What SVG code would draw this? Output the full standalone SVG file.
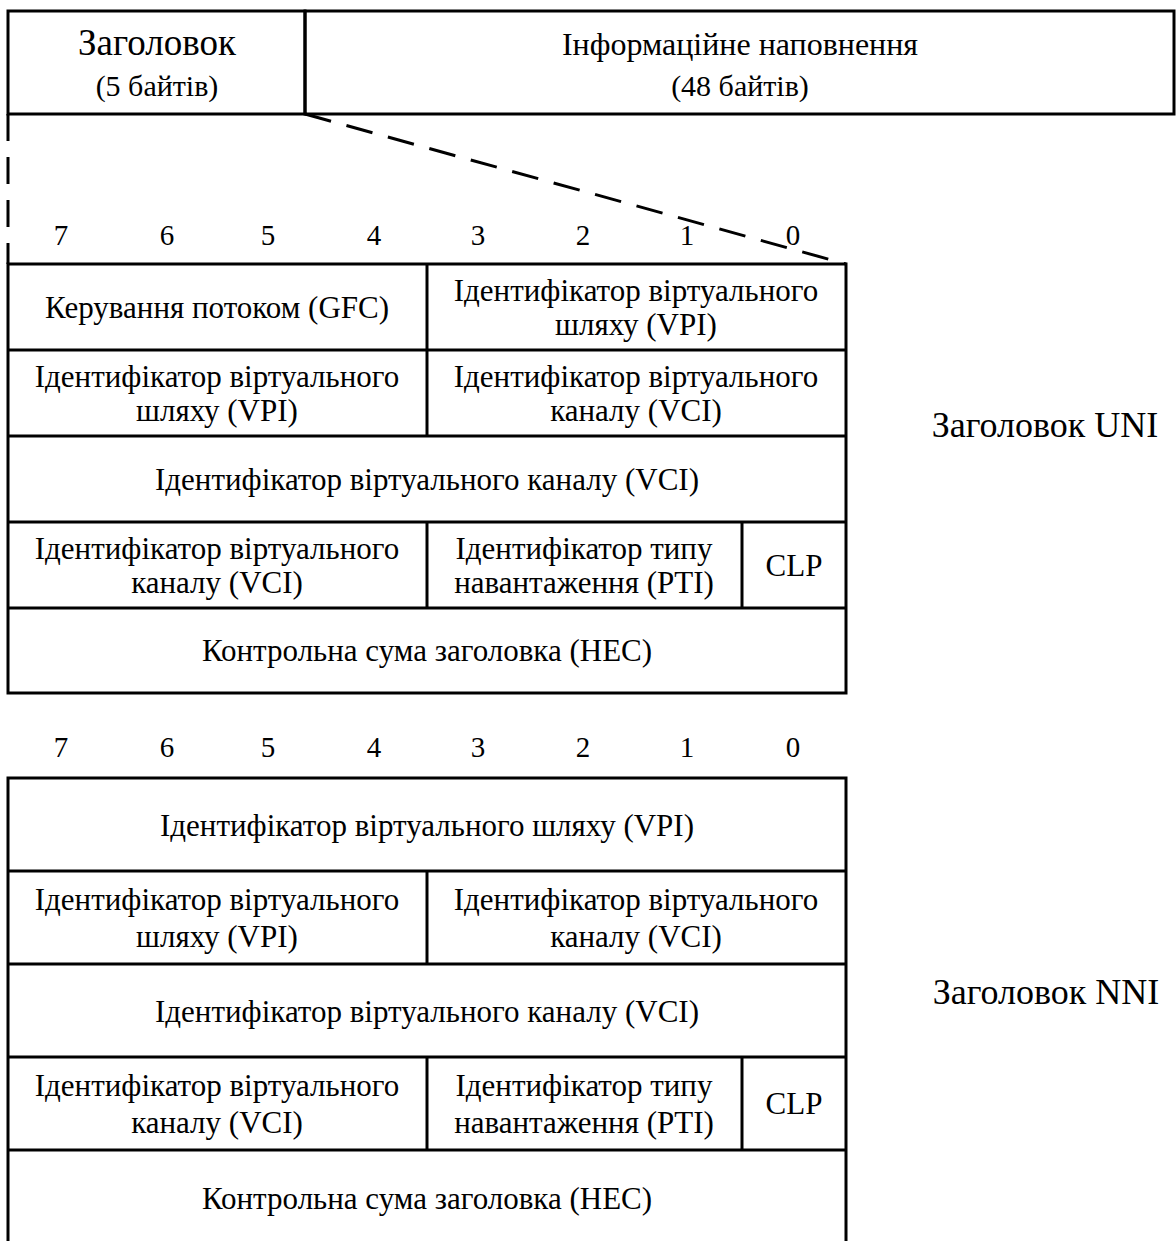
<svg xmlns="http://www.w3.org/2000/svg" width="1176" height="1241" viewBox="0 0 1176 1241">
<style>
.ln{fill:none;stroke:#000;stroke-width:3}
.dash{fill:none;stroke:#000;stroke-width:3;stroke-dasharray:27 16}
text{font-family:"Liberation Serif","Times New Roman",serif;fill:#000;text-anchor:middle}
.h{font-size:36px}
.p{font-size:32px}
.s{font-size:30px}
.t{font-size:31px}
.d{font-size:29px}
</style>
<rect width="1176" height="1241" fill="#fff"/>
<g id="cell-header">
<rect class="ln" x="8" y="11" width="297" height="103"/>
<text class="h" x="157" y="55" style="font-size:37px">Заголовок</text>
<text class="s" x="157" y="96">(5 байтів)</text>
</g>
<g id="cell-payload">
<rect class="ln" x="305" y="11" width="869" height="103"/>
<text class="p" x="740" y="55">Інформаційне наповнення</text>
<text class="s" x="740" y="96">(48 байтів)</text>
</g>
<g id="connectors">
<line class="dash" x1="8" y1="114" x2="8" y2="264"/>
<line class="dash" x1="305" y1="114" x2="846" y2="264"/>
</g>
<g id="bits-uni">
<text class="d" x="61" y="245">7</text>
<text class="d" x="167" y="245">6</text>
<text class="d" x="268" y="245">5</text>
<text class="d" x="374" y="245">4</text>
<text class="d" x="478" y="245">3</text>
<text class="d" x="583" y="245">2</text>
<text class="d" x="687" y="245">1</text>
<text class="d" x="793" y="245">0</text>
</g>
<g id="uni-table">
<rect class="ln" x="8" y="264" width="838" height="429"/>
<line class="ln" x1="8" y1="350" x2="846" y2="350"/>
<line class="ln" x1="8" y1="436" x2="846" y2="436"/>
<line class="ln" x1="8" y1="522" x2="846" y2="522"/>
<line class="ln" x1="8" y1="608" x2="846" y2="608"/>
<line class="ln" x1="427" y1="264" x2="427" y2="436"/>
<line class="ln" x1="427" y1="522" x2="427" y2="608"/>
<line class="ln" x1="742" y1="522" x2="742" y2="608"/>
</g>
<g id="uni-gfc"><text class="t" x="217" y="318">Керування  потоком (GFC)</text></g>
<g id="uni-vpi1"><text class="t" x="636" y="301">Ідентифікатор віртуального</text><text class="t" x="636" y="335">шляху (VPI)</text></g>
<g id="uni-vpi2"><text class="t" x="217" y="387">Ідентифікатор віртуального</text><text class="t" x="217" y="421">шляху (VPI)</text></g>
<g id="uni-vci1"><text class="t" x="636" y="387">Ідентифікатор віртуального</text><text class="t" x="636" y="421">каналу (VCI)</text></g>
<g id="uni-vci2"><text class="t" x="427" y="490">Ідентифікатор віртуального каналу (VCI)</text></g>
<g id="uni-vci3"><text class="t" x="217" y="559">Ідентифікатор віртуального</text><text class="t" x="217" y="593">каналу (VCI)</text></g>
<g id="uni-pti"><text class="t" x="584" y="559">Ідентифікатор типу</text><text class="t" x="584" y="593">навантаження (PTI)</text></g>
<g id="uni-clp"><text class="t" x="794" y="576">CLP</text></g>
<g id="uni-hec"><text class="t" x="427" y="661">Контрольна сума заголовка (HEC)</text></g>
<g id="label-uni"><text class="h" x="1045" y="437">Заголовок UNI</text></g>
<g id="bits-nni">
<text class="d" x="61" y="757">7</text>
<text class="d" x="167" y="757">6</text>
<text class="d" x="268" y="757">5</text>
<text class="d" x="374" y="757">4</text>
<text class="d" x="478" y="757">3</text>
<text class="d" x="583" y="757">2</text>
<text class="d" x="687" y="757">1</text>
<text class="d" x="793" y="757">0</text>
</g>
<g id="nni-table">
<path class="ln" d="M8 1250 V778 H846 V1250"/>
<line class="ln" x1="8" y1="871" x2="846" y2="871"/>
<line class="ln" x1="8" y1="964" x2="846" y2="964"/>
<line class="ln" x1="8" y1="1057" x2="846" y2="1057"/>
<line class="ln" x1="8" y1="1150" x2="846" y2="1150"/>
<line class="ln" x1="427" y1="871" x2="427" y2="964"/>
<line class="ln" x1="427" y1="1057" x2="427" y2="1150"/>
<line class="ln" x1="742" y1="1057" x2="742" y2="1150"/>
</g>
<g id="nni-vpi1"><text class="t" x="427" y="836">Ідентифікатор віртуального шляху (VPI)</text></g>
<g id="nni-vpi2"><text class="t" x="217" y="910">Ідентифікатор віртуального</text><text class="t" x="217" y="947">шляху (VPI)</text></g>
<g id="nni-vci1"><text class="t" x="636" y="910">Ідентифікатор віртуального</text><text class="t" x="636" y="947">каналу (VCI)</text></g>
<g id="nni-vci2"><text class="t" x="427" y="1022">Ідентифікатор віртуального каналу (VCI)</text></g>
<g id="nni-vci3"><text class="t" x="217" y="1096">Ідентифікатор віртуального</text><text class="t" x="217" y="1133">каналу (VCI)</text></g>
<g id="nni-pti"><text class="t" x="584" y="1096">Ідентифікатор типу</text><text class="t" x="584" y="1133">навантаження (PTI)</text></g>
<g id="nni-clp"><text class="t" x="794" y="1114">CLP</text></g>
<g id="nni-hec"><text class="t" x="427" y="1209">Контрольна сума заголовка (HEC)</text></g>
<g id="label-nni"><text class="h" x="1046" y="1004">Заголовок NNI</text></g>
</svg>
